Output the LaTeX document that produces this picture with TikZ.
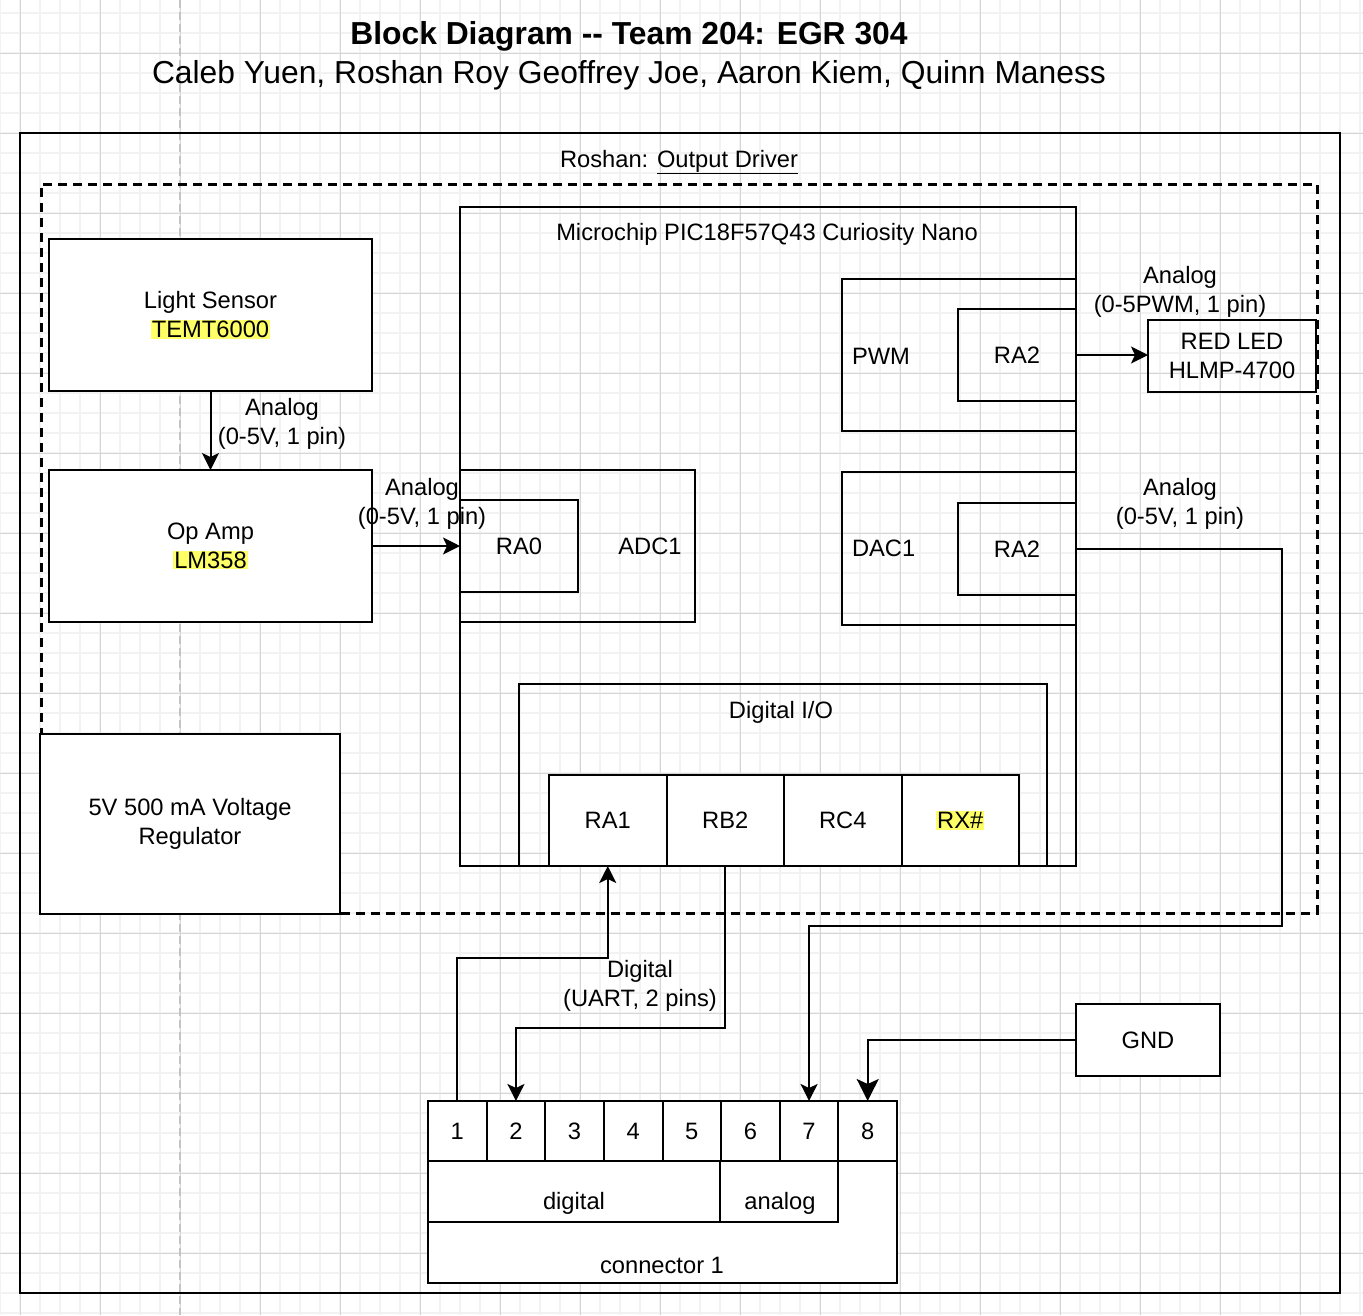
\documentclass[tikz,border=0pt]{standalone}
\usepackage{fontspec}
\setmainfont{Liberation Sans}
\usepackage{xcolor}
\usetikzlibrary{arrows.meta}
\definecolor{gridminor}{HTML}{F2F2F2}
\definecolor{gridmajor}{HTML}{D6D6D6}
\definecolor{pagebreak}{HTML}{C4C4C4}
\definecolor{hl}{HTML}{FFFF66}
\newcommand{\hlt}[1]{{\setlength{\fboxsep}{1pt}\colorbox{hl}{#1}}}

\begin{document}
\begin{tikzpicture}[
		x=1pt, y=-1pt,
		every node/.style={font=\fontsize{23.7}{29}\selectfont, align=center, inner sep=0pt, outer sep=0pt},
		blk/.style={draw, line width=2pt, anchor=north west},
		wblk/.style={blk, fill=white},
		conn/.style={line width=2pt, -{Stealth[length=17pt, width=17pt, inset=4pt]}},
		big/.style={font=\fontsize{31.8}{38}\selectfont},
		bigbold/.style={font=\fontsize{31.8}{38}\selectfont\bfseries}
	]
  \useasboundingbox (0,0) rectangle (1363,1315);
  \fill[white] (0,0) rectangle (1363,1315);
  \foreach \gx in {0,20,...,1360} \draw[gridminor, line width=2pt] (\gx,0) -- (\gx,1315);
  \foreach \gy in {13,33,...,1313} \draw[gridminor, line width=2pt] (0,\gy) -- (1363,\gy);
  \foreach \gx in {20,100,...,1340} \draw[gridmajor, line width=1pt] (\gx,0) -- (\gx,1315);
  \foreach \gy in {53,133,...,1293} \draw[gridmajor, line width=1pt] (0,\gy) -- (1363,\gy);
  \draw[pagebreak, line width=1.5pt, dash pattern=on 8pt off 4pt] (180,0) -- (180,1315);

  \node (title) [bigbold] at (629,36) {Block Diagram -{}- Team 204: EGR 304};
  \node (authors) [big] at (629,75) {Caleb Yuen, Roshan Roy Geoffrey Joe, Aaron Kiem, Quinn Maness};

  \node (frame) [blk, line width=2.5pt, minimum width=1320pt, minimum height=1160pt] at (20,133) {};
  \node (owner) at (679,162) {Roshan: \underline{Output Driver}};
  \node (zone) [blk, line width=3pt, dash pattern=on 9pt off 6pt, minimum width=1276pt, minimum height=729pt] at (41,184) {};

  \node (light) [wblk, minimum width=323pt, minimum height=152pt] at (49,239) {Light Sensor\\\hlt{TEMT6000}};
  \node (opamp) [wblk, minimum width=323pt, minimum height=152pt] at (49,470) {Op Amp\\\hlt{LM358}};
  \node (reg) [wblk, minimum width=300pt, minimum height=180pt] at (40,734) {5V 500 mA Voltage\\Regulator};

  \node (mcu) [blk, minimum width=616pt, minimum height=659pt] at (460,207) {};
  \node (mcuname) at (767,234) {Microchip PIC18F57Q43 Curiosity Nano};
  \node (adc) [blk, minimum width=235pt, minimum height=152pt] at (460,470) {};
  \node (ra0) [blk, minimum width=118pt, minimum height=92pt] at (460,500) {RA0};
  \node (adcname) at (650,546) {ADC1};
  \node (pwm) [blk, minimum width=234pt, minimum height=152pt] at (842,279) {};
  \node (pwmname) [anchor=west] at (852,356) {PWM};
  \node (ra2p) [blk, minimum width=118pt, minimum height=92pt] at (958,309) {RA2};
  \node (dac) [blk, minimum width=234pt, minimum height=153pt] at (842,472) {};
  \node (dacname) [anchor=west] at (852,548) {DAC1};
  \node (ra2d) [blk, minimum width=118pt, minimum height=92pt] at (958,503) {RA2};
  \node (led) [blk, minimum width=168pt, minimum height=72pt] at (1148,320) {RED LED\\HLMP-4700};

  \node (dio) [blk, minimum width=528pt, minimum height=182pt] at (519,684) {};
  \node (dioname) at (781,712) {Digital I/O};
  \foreach \pin [count=\i] in {RA1,RB2,RC4,{\hlt{RX\#}}}
    \node (c\i) [wblk, minimum width=117.5pt, minimum height=91pt] at ({549+117.5*(\i-1)},775) {\pin};

  \node (conn) [wblk, minimum width=469pt, minimum height=182pt] at (428,1101) {};
  \node (connname) at (662,1265) {connector 1};
  \foreach \i in {1,...,8}
    \node (p\i) [wblk, minimum width=58.625pt, minimum height=60pt] at ({428+58.625*(\i-1)},1101) {\i};
  \node (dig) [blk, minimum width=292pt, minimum height=61pt] at (428,1161) {};
  \node (digname) at (574,1203) {digital};
  \node (ana) [blk, minimum width=118pt, minimum height=61pt] at (720,1161) {};
  \node (ananame) at (780,1203) {analog};
  \node (gnd) [wblk, minimum width=144pt, minimum height=72pt] at (1076,1004) {GND};

  \coordinate (dacbend) at (1282,926);
  \draw[conn] (light) -- (opamp);
  \draw[conn] (opamp) -- (ra0);
  \draw[conn] (ra2p.east) -- (ra2p.east -| led.west);
  \draw[conn] (ra2d.east) -| (dacbend) -| (p7.north);
  \draw[conn] (p1.north) -- ++(0,-143) -| (c1.south);
  \draw[conn] (c2.south) -- ++(0,162) -| (p2.north);
  \draw[conn, -{Stealth[length=22pt, width=22pt, inset=5pt]}] (gnd.west) -| (p8.north);

  \node (lightlbl) at (282,424) {Analog\\(0-5V, 1 pin)};
  \node (opamplbl) at (422,504) {Analog\\(0-5V, 1 pin)};
  \node (pwmlbl) at (1180,292) {Analog\\(0-5PWM, 1 pin)};
  \node (daclbl) at (1180,504) {Analog\\(0-5V, 1 pin)};
  \node (uartlbl) at (640,986) {Digital\\(UART, 2 pins)};
\end{tikzpicture}
\end{document}
